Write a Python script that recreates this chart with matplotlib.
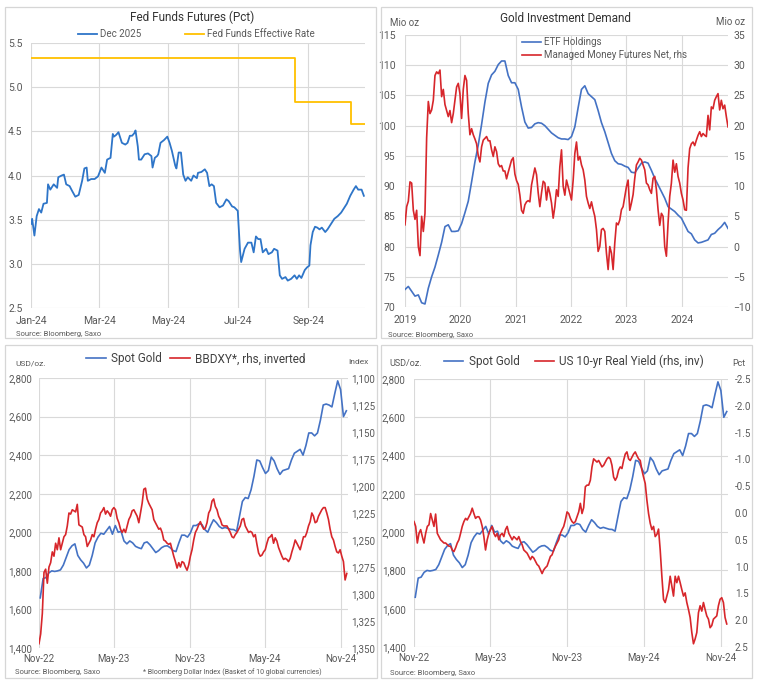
import matplotlib
matplotlib.use('Agg')
import matplotlib.pyplot as plt
import matplotlib.dates as mdates
from matplotlib.patches import Rectangle
from matplotlib.ticker import FuncFormatter, FormatStrFormatter
import numpy as np
import pandas as pd

plt.rcParams['font.family'] = ['Roboto', 'DejaVu Sans']

# ---------------- DATA ----------------
# Panel 1: Fed funds futures (Dec 2025 contract), days since 2024-01-01
dec25_day = [0, 1, 3, 5, 7, 9, 11, 14, 15, 17, 20, 23, 24, 27, 29, 31, 34, 36, 39, 42,
             45, 47, 49, 50, 53, 56, 59, 62, 65, 67, 70, 72, 73, 75, 77, 80, 83, 85, 87, 89,
             91, 92, 94, 95, 97, 100, 103, 106, 107, 109, 111, 112, 114, 117, 120, 122, 124, 127, 128, 130,
             132, 134, 136, 138, 141, 143, 146, 147, 150, 153, 155, 157, 159, 161, 163, 166, 169, 172, 174, 177,
             179, 182, 184, 185, 188, 191, 194, 196, 198, 200, 202, 204, 207, 209, 212, 214, 217, 219, 221, 224,
             226, 229, 232, 234, 236, 238, 241, 243, 245, 246, 248, 250, 252, 254, 256, 259, 261, 264, 267, 270,
             273, 276, 278, 281, 284, 286, 288, 291, 293]
dec25 = [3.45, 3.51, 3.32, 3.54, 3.62, 3.58, 3.68, 3.69, 3.90, 3.84,
         3.90, 3.86, 3.98, 4.00, 4.01, 3.90, 3.88, 3.83, 3.76, 3.78,
         3.94, 4.08, 4.09, 3.94, 3.96, 3.96, 3.99, 4.09, 4.03, 4.18,
         4.20, 4.47, 4.44, 4.46, 4.49, 4.37, 4.35, 4.37, 4.45, 4.45,
         4.48, 4.51, 4.33, 4.18, 4.18, 4.24, 4.25, 4.22, 4.09, 4.20,
         4.22, 4.24, 4.37, 4.40, 4.44, 4.37, 4.28, 4.11, 4.08, 4.26,
         4.26, 4.01, 3.94, 3.98, 3.94, 4.00, 3.97, 4.03, 4.04, 4.07,
         4.03, 3.88, 3.90, 3.88, 3.69, 3.64, 3.66, 3.73, 3.71, 3.65,
         3.64, 3.60, 3.15, 3.02, 3.17, 3.24, 3.24, 3.13, 3.31, 3.28,
         3.28, 3.13, 3.17, 3.11, 3.13, 3.17, 3.15, 2.87, 2.83, 2.85,
         2.81, 2.83, 2.87, 2.83, 2.87, 2.84, 2.93, 2.96, 2.98, 3.21,
         3.36, 3.42, 3.41, 3.39, 3.41, 3.36, 3.39, 3.45, 3.51, 3.54,
         3.58, 3.64, 3.68, 3.77, 3.84, 3.88, 3.84, 3.84, 3.77]
ffer_dates = ['2024-01-01', '2024-08-20', '2024-10-09', '2024-10-21']
ffer_vals = [5.33, 4.83, 4.58, 4.58]
p1_ticks = ['2024-01-01', '2024-03-01', '2024-05-01', '2024-07-01', '2024-09-01']

# Panel 2: Gold investment demand (2019-01 .. 2024-11)
etf_holdings = [72.9, 73.4, 72.6, 71.8, 72.0, 70.7, 70.5, 73.1, 75.0, 76.6,
                78.6, 80.7, 83.3, 83.6, 82.5, 82.5, 82.6, 83.8, 85.6, 87.5,
                90.7, 94.0, 96.8, 100.2, 103.9, 107.0, 108.4, 109.0, 110.1, 110.7,
                110.7, 108.3, 107.1, 107.1, 106.0, 103.1, 100.6, 99.6, 99.7, 100.3,
                100.5, 100.4, 100.0, 99.4, 98.8, 98.4, 98.0, 97.8, 97.8, 97.7,
                98.2, 99.8, 103.0, 106.0, 106.6, 105.3, 104.8, 104.3, 102.5, 100.5,
                99.0, 97.2, 95.4, 94.2, 93.7, 93.6, 93.3, 93.1, 92.3, 92.2,
                93.0, 93.8, 94.0, 93.8, 92.6, 91.3, 90.2, 89.1, 88.0, 86.6,
                86.2, 85.8, 85.2, 84.7, 83.6, 82.5, 82.1, 81.1, 80.6, 80.7,
                80.9, 81.1, 82.0, 82.2, 82.8, 83.3, 84.0, 83.0]
mm_futures = [3.6, 6.6, 7.5, 10.7, 10.5, 6.0, 4.5, 6.0, 0.0, -1.5,
              5.0, 2.5, 5.5, 18, 24, 22, 22.6, 24.2, 28.3, 28.9,
              28.6, 29.2, 24.8, 26, 23.5, 22.5, 21.5, 22.5, 20.5, 22,
              24.2, 26.4, 27, 25.3, 21.2, 26, 28.3, 27.5, 22, 18.5,
              19.5, 18.5, 17.8, 17, 15, 14, 16.5, 17.6, 17.9, 18.2,
              17.5, 17.5, 16.0, 14.9, 16.5, 15.7, 13.7, 13.2, 13.4, 12.5,
              12.5, 11.2, 12.3, 13.3, 14.3, 14.7, 12.0, 10.9, 10.3, 8.5,
              6.0, 5.5, 6.9, 7.4, 7.6, 7.4, 10.2, 11.6, 13.0, 11.9,
              8.9, 6.6, 8.9, 10.8, 10.5, 7.7, 9.9, 8.8, 7.2, 4.7,
              6.6, 9.4, 8.3, 13.2, 16.0, 10.0, 8.5, 11.0, 9.9, 8.8,
              7.7, 11.0, 15.4, 17.3, 14.3, 14.9, 13.5, 12.7, 11.0, 8.3,
              7.2, 6.3, 7.4, 6.1, 5.0, 2.8, -0.8, 0.0, 2.8, 3.0,
              2.5, -1.1, -3.8, 0.0, -1.1, -3.8, 0.6, 3.9, 3.6, 4.4,
              6.1, 6.6, 8.3, 9.9, 11.0, 6.0, 7.2, 8.6, 11.3, 13.5,
              14.0, 14.6, 14.3, 13.5, 12.7, 10.5, 10.2, 9.4, 8.8, 11.3,
              11.6, 9.4, 6.1, 3.5, 5.5, 5.0, 0.0, -1.6, 3.9, 8.3,
              10.5, 14.3, 12.3, 13.7, 11.6, 10.5, 8.8, 7.7, 6.1, 6.0,
              13, 16.2, 17, 17.3, 16.7, 17.6, 18.4, 19.0, 18.2, 18.7,
              18.4, 18.2, 21.7, 19.3, 23.1, 22.8, 24.2, 24.8, 25.3, 22.6,
              24.2, 22.8, 23.4, 21.5, 19.8]
p2_years = ['2019', '2020', '2021', '2022', '2023', '2024']

# Panels 3 & 4: spot gold (weekly, from 2022-11-04)
spot_gold = [1660, 1760, 1765, 1790, 1800, 1797, 1800, 1805, 1830, 1870,
             1910, 1930, 1940, 1880, 1857, 1840, 1815, 1830, 1880, 1945,
             1975, 1995, 1990, 2010, 2030, 1990, 2035, 2000, 2005, 1955,
             1940, 1955, 1945, 1927, 1920, 1915, 1945, 1950, 1935, 1915,
             1895, 1905, 1920, 1928, 1930, 1920, 1905, 1900, 1945, 1985,
             1985, 1975, 1997, 2035, 2035, 2045, 2040, 2014, 2000, 2035,
             2065, 2050, 2030, 2020, 2025, 2020, 2015, 2014, 2005, 2083,
             2160, 2180, 2175, 2220, 2290, 2375, 2370, 2335, 2305, 2320,
             2390, 2370, 2330, 2300, 2320, 2325, 2330, 2375, 2410, 2420,
             2430, 2400, 2450, 2515, 2515, 2500, 2515, 2580, 2660, 2665,
             2660, 2650, 2720, 2785, 2740, 2600, 2630]
# Panel 3: Bloomberg Dollar Index (2022-11-01 .. 2024-11-16)
bbdxy = [1346, 1337, 1318, 1280, 1277, 1290, 1275, 1271, 1261, 1265,
         1253, 1259, 1248, 1259, 1253, 1247, 1245, 1237, 1225, 1226,
         1222, 1223, 1224, 1217, 1236, 1237, 1238, 1245, 1247, 1256,
         1253, 1250, 1245, 1247, 1240, 1234, 1231, 1225, 1223, 1220,
         1226, 1223, 1225, 1228, 1222, 1220, 1222, 1230, 1234, 1240,
         1243, 1240, 1243, 1237, 1231, 1228, 1223, 1222, 1225, 1228,
         1234, 1225, 1216, 1203, 1202, 1212, 1216, 1219, 1222, 1231,
         1234, 1237, 1240, 1239, 1243, 1250, 1251, 1253, 1254, 1253,
         1259, 1265, 1270, 1276, 1271, 1275, 1270, 1271, 1275, 1278,
         1273, 1265, 1259, 1250, 1243, 1240, 1236, 1233, 1237, 1240,
         1239, 1234, 1225, 1222, 1214, 1212, 1219, 1222, 1228, 1231,
         1236, 1237, 1237, 1237, 1240, 1243, 1247, 1248, 1245, 1243,
         1240, 1237, 1231, 1230, 1237, 1240, 1243, 1242, 1243, 1247,
         1245, 1254, 1262, 1265, 1264, 1261, 1259, 1253, 1248, 1247,
         1245, 1253, 1248, 1251, 1257, 1261, 1265, 1268, 1267, 1268,
         1270, 1267, 1261, 1256, 1250, 1253, 1256, 1259, 1253, 1247,
         1247, 1243, 1237, 1233, 1225, 1228, 1234, 1233, 1228, 1225,
         1222, 1220, 1220, 1225, 1231, 1240, 1247, 1250, 1256, 1261,
         1262, 1259, 1265, 1270, 1287, 1281]
# Panel 4: US 10-yr real yield as plotted (2022-11-01 .. 2024-11-15)
real_yield = [0.16, 0.25, 0.56, 0.38, 0.31, 0.44, 0.56, 0.38, 0.25, 0.22,
              0.01, 0.13, 0.25, 0.02, 0.38, 0.44, 0.50, 0.53, 0.56, 0.56,
              0.59, 0.62, 0.62, 0.69, 0.72, 0.65, 0.56, 0.50, 0.38, 0.25,
              0.16, 0.10, 0.13, 0.07, 0.01, -0.09, 0.01, 0.10, 0.07, 0.07,
              0.13, 0.25, 0.44, 0.69, 0.50, 0.38, 0.31, 0.25, 0.38, 0.44,
              0.38, 0.50, 0.41, 0.38, 0.44, 0.31, 0.25, 0.38, 0.44, 0.50,
              0.44, 0.47, 0.50, 0.44, 0.53, 0.59, 0.69, 0.72, 0.75, 0.81,
              0.87, 0.81, 0.84, 0.90, 0.96, 0.99, 1.06, 1.13, 1.06, 1.02,
              0.99, 0.90, 0.81, 0.78, 0.69, 0.62, 0.56, 0.50, 0.38, 0.31,
              0.25, 0.13, -0.02, 0.01, 0.10, 0.16, 0.19, 0.16, 0.07, -0.02,
              -0.18, 0.01, -0.10, -0.49, -0.52, -0.52, -0.61, -0.86, -1.01, -0.98,
              -0.95, -0.98, -0.92, -0.86, -0.89, -0.95, -1.01, -1.04, -1.01, -0.89,
              -0.67, -0.61, -0.67, -0.80, -0.86, -0.83, -0.98, -1.10, -1.14, -1.01,
              -0.98, -1.04, -1.10, -1.14, -1.07, -1.01, -0.98, -0.80, -0.67, -0.55,
              -0.24, 0.01, 0.19, 0.31, 0.25, 0.44, 0.40, 0.30, 0.69, 1.18,
              1.61, 1.67, 1.55, 1.43, 1.18, 1.36, 1.55, 1.18, 1.30, 1.18,
              1.30, 1.43, 1.55, 1.49, 1.67, 1.80, 1.95, 2.23, 2.44, 2.35,
              2.23, 1.86, 1.73, 1.83, 1.67, 1.80, 1.92, 1.98, 2.14, 2.10,
              1.98, 1.95, 1.92, 1.73, 1.61, 1.58, 1.67, 1.95, 2.07]
p34_ticks = ['2022-11-01', '2023-05-01', '2023-11-01', '2024-05-01', '2024-11-01']

# ---------------- STYLE ----------------
W, H = 761, 690
fig = plt.figure(figsize=(W / 100, H / 100), dpi=100)
fig.patch.set_facecolor('white')

GRID = '#D9D9D9'
TXT = '#595959'
LEG = '#404040'
TITLE = '#333333'
BLUE1 = '#2E75C8'
BLUE = '#4472C4'
RED = '#D7262B'
YELLOW = '#FFC000'


def fx(px):
    return px / W


def fy(py):
    return 1 - py / H


def box(l, t, r, b):
    return [l / W, 1 - b / H, (r - l) / W, (b - t) / H]


def frame(l, t, r, b):
    fig.add_artist(Rectangle((fx(l), fy(b)), (r - l) / W, (b - t) / H,
                             transform=fig.transFigure, fill=False,
                             edgecolor='#D6D6D6', lw=0.9))


def style(ax, fs=7):
    for s in ax.spines.values():
        s.set_visible(False)
    ax.tick_params(length=0, colors=TXT, labelsize=fs)
    ax.grid(True, color=GRID, lw=0.8)
    ax.set_axisbelow(True)


def style_twin(ax, fs=7):
    for s in ax.spines.values():
        s.set_visible(False)
    ax.tick_params(length=0, colors=TXT, labelsize=fs)
    ax.grid(False)


comma = FuncFormatter(lambda v, p: f'{v:,.0f}')

frame(5, 7, 376, 338)
frame(381, 7, 752, 338)
frame(5, 345, 377, 678)
frame(381, 345, 752, 678)

# ---------------- PANEL 1 ----------------
ax1 = fig.add_axes(box(31, 43, 365, 308))
style(ax1, 7.5)
d1 = pd.Timestamp('2024-01-01') + pd.to_timedelta(dec25_day, unit='D')
ax1.plot(d1, dec25, color=BLUE1, lw=1.3, label='Dec 2025')
ax1.plot(pd.to_datetime(ffer_dates), ffer_vals, drawstyle='steps-post',
         color=YELLOW, lw=1.3, label='Fed Funds Effective Rate')
ax1.set_ylim(2.5, 5.5)
ax1.set_yticks(np.arange(2.5, 5.51, 0.5))
ax1.yaxis.set_major_formatter(FormatStrFormatter('%.1f'))
ax1.set_xlim(pd.Timestamp('2024-01-01'), pd.Timestamp('2024-10-21'))
ax1.set_xticks(pd.to_datetime(p1_ticks))
ax1.xaxis.set_major_formatter(mdates.DateFormatter('%b-%y'))
ax1.tick_params(axis='y', pad=6)
ax1.tick_params(axis='x', pad=6)
fig.text(fx(192), fy(17), 'Fed Funds Futures (Pct)', ha='center', va='center',
         fontsize=8.5, color=TITLE)
ax1.legend(loc='center', bbox_to_anchor=(fx(196), fy(34)), bbox_transform=fig.transFigure,
           ncol=2, frameon=False, fontsize=7, handlelength=2.0, handletextpad=0.25,
           columnspacing=4.5, labelcolor=TXT, borderpad=0, borderaxespad=0)
fig.text(fx(16), fy(334), 'Source: Bloomberg, Saxo', ha='left', va='center',
         fontsize=5.5, color=TXT)

# ---------------- PANEL 2 ----------------
ax2 = fig.add_axes(box(405, 35, 728, 307))
style(ax2, 7.5)
d2a = pd.date_range('2019-01-01', '2024-11-01', periods=len(etf_holdings))
d2b = pd.date_range('2019-01-01', '2024-11-01', periods=len(mm_futures))
l2a, = ax2.plot(d2a, etf_holdings, color=BLUE, lw=1.2, label='ETF Holdings')
ax2.set_ylim(70, 115)
ax2.set_yticks(np.arange(70, 116, 5))
ax2.set_xlim(pd.Timestamp('2019-01-01'), pd.Timestamp('2024-11-01'))
ax2.set_xticks(pd.to_datetime([y + '-01-01' for y in p2_years]))
ax2.xaxis.set_major_formatter(mdates.DateFormatter('%Y'))
ax2.tick_params(axis='y', pad=7)
ax2.tick_params(axis='x', pad=6)
ax2r = ax2.twinx()
style_twin(ax2r, 7.5)
l2b, = ax2r.plot(d2b, mm_futures, color=RED, lw=1.2, label='Managed Money Futures Net, rhs')
ax2r.set_ylim(-10, 35)
ax2r.set_yticks(np.arange(-10, 36, 5))
ax2r.tick_params(axis='y', pad=4)
fig.text(fx(566), fy(19), 'Gold Investment Demand', ha='center', va='center',
         fontsize=8.5, color=TITLE)
fig.text(fx(390), fy(23), 'Mio oz', ha='left', va='center', fontsize=7, color=TXT)
fig.text(fx(745), fy(22), 'Mio oz', ha='right', va='center', fontsize=7, color=TXT)
ax2r.legend(handles=[l2a, l2b], loc='upper left', bbox_to_anchor=(fx(522), fy(37)),
            bbox_transform=fig.transFigure, ncol=1, frameon=False, fontsize=7,
            handlelength=2.0, handletextpad=0.3, labelspacing=0.35, labelcolor=TXT,
            borderpad=0, borderaxespad=0)
fig.text(fx(388), fy(335), 'Source: Bloomberg, Saxo', ha='left', va='center',
         fontsize=5.5, color=TXT)

# ---------------- PANEL 3 ----------------
ax3 = fig.add_axes(box(39, 378, 348, 648))
style(ax3, 7)
dg3 = pd.date_range('2022-11-04', periods=len(spot_gold), freq='7D')
db3 = pd.date_range('2022-11-01', '2024-11-16', periods=len(bbdxy))
l3a, = ax3.plot(dg3, spot_gold, color=BLUE, lw=1.2, label='Spot Gold')
ax3.set_ylim(1400, 2800)
ax3.set_yticks(np.arange(1400, 2801, 200))
ax3.yaxis.set_major_formatter(comma)
ax3.set_xlim(pd.Timestamp('2022-11-01'), pd.Timestamp('2024-11-19'))
ax3.set_xticks(pd.to_datetime(p34_ticks))
ax3.xaxis.set_major_formatter(mdates.DateFormatter('%b-%y'))
ax3.tick_params(axis='y', pad=5)
ax3.tick_params(axis='x', pad=4)
ax3r = ax3.twinx()
style_twin(ax3r, 7)
l3b, = ax3r.plot(db3, bbdxy, color=RED, lw=1.2, label='BBDXY*, rhs, inverted')
ax3r.set_ylim(1350, 1100)
ax3r.set_yticks(np.arange(1100, 1351, 25))
ax3r.yaxis.set_major_formatter(comma)
ax3r.tick_params(axis='y', pad=2)
ax3r.legend(handles=[l3a, l3b], loc='center', bbox_to_anchor=(fx(196), fy(359)),
            bbox_transform=fig.transFigure, ncol=2, frameon=False, fontsize=8.5,
            handlelength=1.7, handletextpad=0.4, columnspacing=0.7, labelcolor=LEG,
            borderpad=0, borderaxespad=0)
fig.text(fx(15), fy(363), 'USD/oz.', ha='left', va='center', fontsize=6, color=TXT)
fig.text(fx(348), fy(362), 'Index', ha='left', va='center', fontsize=6, color=TXT)
fig.text(fx(15), fy(672), 'Source: Bloomberg, Saxo', ha='left', va='center',
         fontsize=5.5, color=TXT)
fig.text(fx(143), fy(672), '* Bloomberg Dollar Index (Basket of 10 global currencies)',
         ha='left', va='center', fontsize=5, color=TXT)

# ---------------- PANEL 4 ----------------
ax4 = fig.add_axes(box(414, 379, 728, 647))
style(ax4, 7)
dg4 = pd.date_range('2022-11-04', periods=len(spot_gold), freq='7D')
dr4 = pd.date_range('2022-11-01', '2024-11-15', periods=len(real_yield))
l4a, = ax4.plot(dg4, spot_gold, color=BLUE, lw=1.2, label='Spot Gold')
ax4.set_ylim(1400, 2800)
ax4.set_yticks(np.arange(1400, 2801, 200))
ax4.yaxis.set_major_formatter(comma)
ax4.set_xlim(pd.Timestamp('2022-11-01'), pd.Timestamp('2024-11-18'))
ax4.set_xticks(pd.to_datetime(p34_ticks))
ax4.xaxis.set_major_formatter(mdates.DateFormatter('%b-%y'))
ax4.tick_params(axis='y', pad=6)
ax4.tick_params(axis='x', pad=4)
ax4r = ax4.twinx()
style_twin(ax4r, 7)
l4b, = ax4r.plot(dr4, real_yield, color=RED, lw=1.2, label='US 10-yr Real Yield (rhs, inv)')
ax4r.set_ylim(2.5, -2.5)
ax4r.set_yticks(np.arange(-2.5, 2.51, 0.5))
ax4r.yaxis.set_major_formatter(FuncFormatter(lambda v, p: f'{v:.1f}'.replace('-0.0', '0.0')))
ax4r.tick_params(axis='y', pad=5)
ax4r.legend(handles=[l4a, l4b], loc='center', bbox_to_anchor=(fx(574), fy(361)),
            bbox_transform=fig.transFigure, ncol=2, frameon=False, fontsize=8.5,
            handlelength=1.6, handletextpad=0.45, columnspacing=1.3, labelcolor=LEG,
            borderpad=0, borderaxespad=0)
fig.text(fx(389), fy(364), 'USD/oz.', ha='left', va='center', fontsize=6.5, color=TXT)
fig.text(fx(732), fy(364), 'Pct', ha='left', va='center', fontsize=6.5, color=TXT)
fig.text(fx(390), fy(673), 'Source: Bloomberg, Saxo', ha='left', va='center',
         fontsize=5.5, color=TXT)

fig.savefig('out.png', dpi=100, facecolor='white')
